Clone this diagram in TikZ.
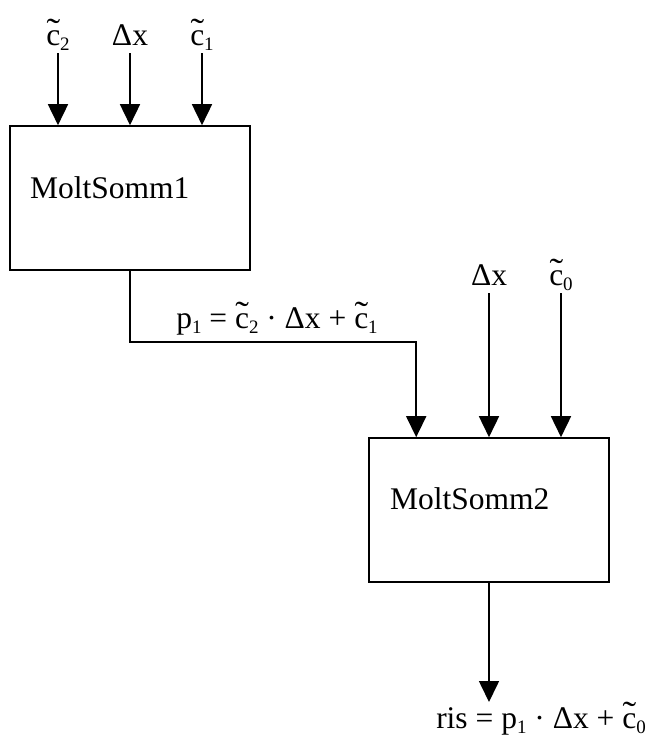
\documentclass[tikz,border=0pt]{standalone}
\usepackage{fontspec}
\setmainfont{Liberation Serif}
\usetikzlibrary{arrows.meta}
\newcommand\sbs[1]{\raisebox{-5pt}{\fontsize{19}{19}\selectfont #1}}
\newcommand\ct{\makebox[0pt][l]{\hspace{0.01em}\raisebox{0.08em}{\scalebox{1.3}[1.1]{˜}}}c}
\begin{document}
\begin{tikzpicture}[x=1pt,y=-1pt,
  every node/.style={font=\fontsize{31.5}{36}\selectfont, inner sep=0pt},
  blk/.style={draw, line width=1.6pt, minimum width=240pt, minimum height=144pt},
  wire/.style={line width=1.6pt},
  arr/.style={wire, -{Triangle[length=21pt,width=20pt]}}]
\useasboundingbox (0,0) rectangle (646,742);
% blocks
\node[blk] (m1) at (130,198) {};
\node[blk] (m2) at (489,510) {};
\node[anchor=base west] (t1) at (30,198) {MoltSomm1};
\node[anchor=base west] (t2) at (390,509) {MoltSomm2};
% inputs of block 1
\node[anchor=base] (i1) at (58,45) {\ct\sbs{2}};
\node[anchor=base] (i2) at (130,45) {Δx};
\node[anchor=base] (i3) at (202,45) {\ct\sbs{1}};
\draw[arr] (i1.base) ++(0,8) -- (i1.base |- m1.north);
\draw[arr] (i2.base) ++(0,8) -- (i2.base |- m1.north);
\draw[arr] (i3.base) ++(0,8) -- (i3.base |- m1.north);
% inputs of block 2
\coordinate (m2in1) at ([xshift=48pt]m2.north west);
\node[anchor=base] (j2) at (489,285) {Δx};
\node[anchor=base] (j3) at (561,285) {\ct\sbs{0}};
\draw[arr] (j2.base) ++(0,8) -- (j2.base |- m2.north);
\draw[arr] (j3.base) ++(0,8) -- (j3.base |- m2.north);
% connection
\coordinate (bend) at (130,342);
\draw[arr] (m1.south) -- (bend) -| (m2in1);
\node[anchor=base] (p1) at (277,328) {p\sbs{1} = \ct\sbs{2} · Δx + \ct\sbs{1}};
% output
\coordinate (out) at (489,702);
\draw[arr] (m2.south) -- (out);
\node[anchor=base] (res) at (541,728) {ris = p\sbs{1} · Δx + \ct\sbs{0}};
\end{tikzpicture}
\end{document}
